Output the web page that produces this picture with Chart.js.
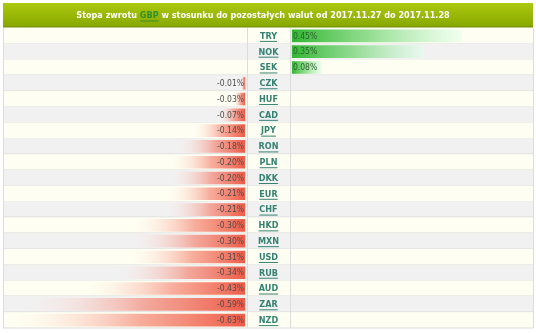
<!DOCTYPE html>
<html>
<head>
<meta charset="utf-8">
<script src="https://cdn.jsdelivr.net/npm/chart.js@4"></script>
<style>
  html, body { margin: 0; padding: 0; background: #ffffff; }
  #wrap { position: relative; width: 536px; height: 333px; }
</style>
</head>
<body>
<div id="wrap"><canvas id="c"></canvas></div>
<script>
// Currencies and the GBP rate of return against each (%)
const currencies = ['TRY', 'NOK', 'SEK', 'CZK', 'HUF', 'CAD', 'JPY', 'RON', 'PLN', 'DKK',
                    'EUR', 'CHF', 'HKD', 'MXN', 'USD', 'RUB', 'AUD', 'ZAR', 'NZD'];
const returns = [0.45, 0.35, 0.08, -0.01, -0.03, -0.07, -0.14, -0.18, -0.20, -0.20,
                 -0.21, -0.21, -0.30, -0.30, -0.31, -0.34, -0.43, -0.59, -0.63];
const titleParts = ['Stopa zwrotu ', 'GBP', ' w stosunku do pozostałych walut od 2017.11.27 do 2017.11.28'];

const gains = returns.map(v => (v > 0 ? v : null));
const losses = returns.map(v => (v < 0 ? v : null));

const FONT = '"DejaVu Sans Condensed", "DejaVu Sans", sans-serif';

function barGradient(ctx, axisId, inner, middle, outer) {
  const v = ctx.raw;
  if (v === null || v === undefined) return 'rgba(0,0,0,0)';
  const s = ctx.chart.scales[axisId];
  const x0 = s ? s.getPixelForValue(0) : NaN;
  const x1 = s ? s.getPixelForValue(v) : NaN;
  if (!isFinite(x0) || !isFinite(x1) || x0 === x1) return inner;
  const g = ctx.chart.ctx.createLinearGradient(x0, 0, x1, 0);
  g.addColorStop(0, inner);
  g.addColorStop(0.45, middle);
  g.addColorStop(1, outer);
  return g;
}

// Header band, zebra rows and grid lines behind the bars; codes and labels on top
const tableBackground = {
  id: 'tableBackground',
  beforeDatasetsDraw(chart) {
    const { ctx, chartArea: a, scales } = chart;
    const y = scales.y;
    const n = currencies.length;
    const h = a.height / n;
    ctx.save();
    const hg = ctx.createLinearGradient(0, 3, 0, 27);
    hg.addColorStop(0, '#acc90e');
    hg.addColorStop(1, '#88a700');
    ctx.fillStyle = hg;
    ctx.fillRect(a.left, 3, a.width, 24);
    ctx.fillStyle = '#7a9600';
    ctx.fillRect(a.left, 26, a.width, 1.5);
    for (let i = 0; i < n; i++) {
      const top = y.getPixelForValue(i) - h / 2;
      ctx.fillStyle = i % 2 === 0 ? '#fefff2' : '#f1f1f1';
      ctx.fillRect(a.left, top, a.width, h);
      ctx.fillStyle = '#dcdcdc';
      ctx.fillRect(a.left, Math.round(top + h) - 0.5, a.width, 1);
    }
    ctx.strokeStyle = '#dcdcdc';
    ctx.lineWidth = 1;
    const xm = scales.xm;
    [a.left, xm.left, xm.right, a.right].forEach(x => {
      ctx.beginPath();
      ctx.moveTo(Math.round(x) + 0.5, a.top);
      ctx.lineTo(Math.round(x) + 0.5, a.bottom);
      ctx.stroke();
    });
    ctx.restore();
  },
  afterDatasetsDraw(chart) {
    const { ctx, chartArea: a, scales } = chart;
    ctx.save();
    ctx.font = 'bold 9px ' + FONT;
    ctx.textBaseline = 'middle';
    const widths = titleParts.map(t => ctx.measureText(t).width);
    const total = widths.reduce((p, q) => p + q, 0);
    let x = (a.left + a.right) / 2 - 5 - total / 2;
    const ty = 15.5;
    titleParts.forEach((t, i) => {
      ctx.fillStyle = i === 1 ? '#2f8f2f' : '#ffffff';
      ctx.fillText(t, x, ty);
      if (i === 1) ctx.fillRect(x, ty + 5, widths[i], 1);
      x += widths[i];
    });
    const xm = scales.xm;
    const cx = (xm.left + xm.right) / 2;
    ctx.font = 'bold 9px ' + FONT;
    ctx.textAlign = 'center';
    ctx.fillStyle = '#358272';
    currencies.forEach((c, i) => {
      const yy = scales.y.getPixelForValue(i);
      const w = ctx.measureText(c).width;
      ctx.fillText(c, cx, yy + 0.5);
      ctx.fillRect(cx - w / 2, yy + 5, w, 1);
    });
    ctx.font = '8.5px ' + FONT;
    chart.data.datasets.forEach((ds, di) => {
      const meta = chart.getDatasetMeta(di);
      meta.data.forEach((bar, i) => {
        const v = ds.data[i];
        if (v === null) return;
        const label = v.toFixed(2) + '%';
        if (v < 0) {
          ctx.textAlign = 'right';
          ctx.fillStyle = '#4d4d4d';
          ctx.fillText(label, bar.base - 1, bar.y + 0.5);
        } else {
          ctx.textAlign = 'left';
          ctx.fillStyle = '#2f5f2f';
          ctx.fillText(label, bar.base + 1, bar.y + 0.5);
        }
      });
    });
    ctx.restore();
  }
};

new Chart(document.getElementById('c'), {
  type: 'bar',
  data: {
    labels: currencies,
    datasets: [
      {
        data: losses,
        xAxisID: 'xl',
        grouped: false,
        categoryPercentage: 1,
        barPercentage: 0.8,
        borderWidth: 0,
        backgroundColor: ctx => barGradient(ctx, 'xl', '#ef5a46', 'rgba(243,120,100,0.6)', 'rgba(255,235,230,0)')
      },
      {
        data: gains,
        xAxisID: 'xr',
        grouped: false,
        categoryPercentage: 1,
        barPercentage: 0.8,
        borderWidth: 0,
        backgroundColor: ctx => barGradient(ctx, 'xr', '#30b530', 'rgba(110,210,110,0.75)', 'rgba(225,255,235,0.5)')
      }
    ]
  },
  options: {
    indexAxis: 'y',
    responsive: true,
    maintainAspectRatio: false,
    animation: false,
    layout: { padding: { left: 3, right: 3, top: 28, bottom: 5 } },
    plugins: { legend: { display: false }, tooltip: { enabled: false }, title: { display: false } },
    scales: {
      y: { type: 'category', display: false, offset: true },
      // three side-by-side x axes: losses | currency codes | gains
      xl: { type: 'linear', position: 'bottom', stack: 'cols', stackWeight: 244, weight: 1,
            min: -0.643, max: 0.005, display: false },
      xm: { type: 'linear', position: 'bottom', stack: 'cols', stackWeight: 43, weight: 2,
            min: 0, max: 1, display: false },
      xr: { type: 'linear', position: 'bottom', stack: 'cols', stackWeight: 243, weight: 3,
            min: -0.005, max: 0.639, display: false }
    }
  },
  plugins: [tableBackground]
});
</script>
</body>
</html>
